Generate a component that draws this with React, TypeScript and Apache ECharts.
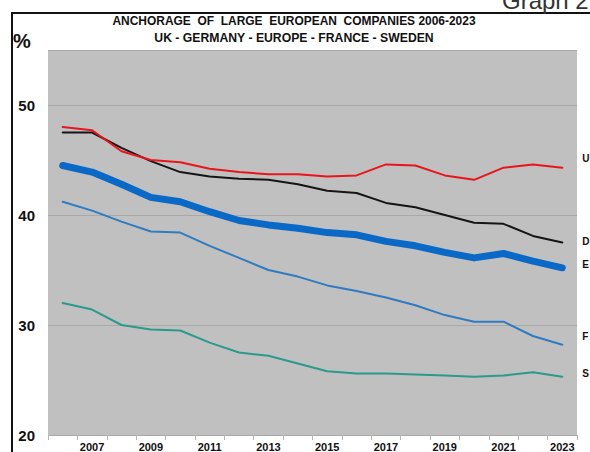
import React, { useEffect, useRef } from "react";
import * as echarts from "echarts";

const years = ["2006","2007","2008","2009","2010","2011","2012","2013","2014","2015","2016","2017","2018","2019","2020","2021","2022","2023"];
const uk = [48.0, 47.7, 45.8, 45.0, 44.8, 44.2, 43.9, 43.7, 43.7, 43.5, 43.6, 44.6, 44.5, 43.6, 43.2, 44.3, 44.6, 44.3];
const germany = [47.5, 47.5, 46.1, 44.9, 43.9, 43.5, 43.3, 43.2, 42.8, 42.2, 42.0, 41.1, 40.7, 40.0, 39.3, 39.2, 38.1, 37.5];
const europe = [44.5, 43.9, 42.8, 41.6, 41.2, 40.3, 39.5, 39.1, 38.8, 38.4, 38.2, 37.6, 37.2, 36.6, 36.1, 36.5, 35.8, 35.2];
const france = [41.2, 40.4, 39.4, 38.5, 38.4, 37.2, 36.1, 35.0, 34.4, 33.6, 33.1, 32.5, 31.8, 30.9, 30.3, 30.3, 29.0, 28.2];
const sweden = [32.0, 31.4, 30.0, 29.6, 29.5, 28.4, 27.5, 27.2, 26.5, 25.8, 25.6, 25.6, 25.5, 25.4, 25.3, 25.4, 25.7, 25.3];
const endLabels = ["U", "D", "E", "F", "S"];
const titleLines = ["ANCHORAGE  OF  LARGE  EUROPEAN  COMPANIES 2006-2023", "UK - GERMANY - EUROPE - FRANCE - SWEDEN"];

export default function App() {
  const ref = useRef<HTMLDivElement>(null);
  useEffect(() => {
    if (!ref.current) return;
    const chart = echarts.init(ref.current, null, { renderer: "svg" });
    const mk = (name: string, data: number[], color: string, width: number, label: string, dy: number) => ({
      name,
      type: "line",
      data,
      showSymbol: false,
      symbol: "none",
      lineStyle: { color, width, cap: "round", join: "round" },
      endLabel: {
        show: true,
        formatter: label,
        color: "#111",
        fontFamily: "Liberation Sans",
        fontWeight: "bold",
        fontSize: 10,
        distance: 20,
        offset: [0, dy],
      },
      z: 2,
    });
    chart.setOption({
      animation: false,
      backgroundColor: "#ffffff",
      grid: { left: 48, right: 13, top: 50, bottom: 15, show: true, backgroundColor: "#c0c0c0", borderWidth: 0 },
      graphic: [
        { type: "line", shape: { x1: 12, y1: 13, x2: 12, y2: 452 }, style: { stroke: "#111", lineWidth: 2 } },
        { type: "line", shape: { x1: 11, y1: 13, x2: 590, y2: 13 }, style: { stroke: "#111", lineWidth: 2 } },
        { type: "text", x: 502, y: -12, style: { text: "Graph 2", fill: "#333", font: "24px 'Liberation Sans'" } },
        { type: "text", left: 13, top: 31, style: { text: "%", fill: "#111", font: "bold 20px 'Liberation Sans'" } },
        { type: "text", x: 294, y: 21, scaleX: 0.92, style: { text: titleLines[0], fill: "#111", font: "bold 13px 'Liberation Sans'", align: "center", verticalAlign: "middle" } },
        { type: "text", x: 294, y: 38, scaleX: 0.94, style: { text: titleLines[1], fill: "#111", font: "bold 13px 'Liberation Sans'", align: "center", verticalAlign: "middle" } },
      ],
      xAxis: {
        type: "category",
        data: years,
        boundaryGap: true,
        axisLine: { show: false },
        axisTick: { show: true, interval: 0, length: 5, lineStyle: { color: "#b5b5b5" } },
        axisLabel: {
          interval: (i: number) => i % 2 === 1,
          margin: 6,
          color: "#111",
          fontFamily: "Liberation Sans",
          fontWeight: "bold",
          fontSize: 11,
        },
      },
      yAxis: {
        type: "value",
        min: 20,
        max: 55,
        interval: 10,
        axisLine: { show: false },
        axisTick: { show: false },
        splitLine: { show: true, lineStyle: { color: "#a9a9a9", width: 1 } },
        axisLabel: {
          margin: 13,
          color: "#111",
          fontFamily: "Liberation Sans",
          fontWeight: "bold",
          fontSize: 15,
          formatter: (v: number) => (v % 10 === 0 ? String(v) : ""),
        },
      },
      series: [
        mk("Sweden", sweden, "#2b9a8c", 2, endLabels[4], -3),
        mk("France", france, "#2f7bc2", 2, endLabels[3], -8),
        mk("Europe", europe, "#0a69c6", 7, endLabels[2], -3),
        mk("Germany", germany, "#151515", 2, endLabels[1], -1),
        mk("UK", uk, "#e8161c", 2, endLabels[0], -9),
      ],
    });
    return () => chart.dispose();
  }, []);
  return <div ref={ref} style={{ position: "fixed", left: 0, top: 0, width: 590, height: 452 }} />;
}
